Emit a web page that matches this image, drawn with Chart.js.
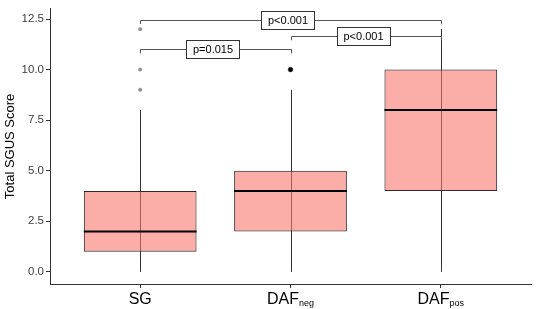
<!DOCTYPE html>
<html lang="en">
<head>
    <meta charset="UTF-8">
    <title>Total SGUS Score</title>
    <script src="https://cdn.jsdelivr.net/npm/chart.js"></script>
    <style>
        body { margin: 0; background: white; }
        #wrap { width: 536px; height: 309px; }
    </style>
</head>
<body>
<div id="wrap"><canvas id="boxChart"></canvas></div>

<script>
    // group names, drawn as main text + subscript
    const groups = ['SG', 'DAFneg', 'DAFpos'];
    const labelMain = ['SG', 'DAF', 'DAF'];
    const labelSub = ['', 'neg', 'pos'];

    // box plot summary
    const whiskerLow = [0, 0, 0];
    const q1 = [1, 2, 4];
    const medians = [2, 4, 8];
    const q3 = [4, 5, 10];
    const whiskerHigh = [8, 9, 12];

    // outliers (group index, value)
    const outlierGroup = [0, 0, 0, 1];
    const outlierValue = [9, 10, 12, 10];
    const outlierColor = ['#8c8c8c', '#8c8c8c', '#8c8c8c', '#000000'];

    // significance brackets
    const compareFrom = [0, 0, 1];
    const compareTo = [1, 2, 2];
    const compareY = [11.0, 12.45, 11.65];
    const pLabels = ['p=0.015', 'p<0.001', 'p<0.001'];

    const yTicks = [0, 2.5, 5, 7.5, 10, 12.5];
    const FONT = '"Liberation Sans", Arial, sans-serif';

    const boxExtras = {
        id: 'boxExtras',
        beforeDatasetsDraw(chart) {
            const { ctx, scales: { x, y } } = chart;
            ctx.save();
            ctx.strokeStyle = '#333333';
            ctx.lineWidth = 1;
            groups.forEach((g, i) => {
                const px = Math.round(x.getPixelForValue(i)) + 0.5;
                ctx.beginPath();
                ctx.moveTo(px, y.getPixelForValue(whiskerLow[i]));
                ctx.lineTo(px, y.getPixelForValue(whiskerHigh[i]));
                ctx.stroke();
            });
            ctx.restore();
        },
        afterDatasetsDraw(chart) {
            const { ctx, scales: { x, y } } = chart;
            const meta = chart.getDatasetMeta(0);
            ctx.save();
            // medians
            ctx.strokeStyle = '#000000';
            ctx.lineWidth = 2;
            meta.data.forEach((bar, i) => {
                const half = bar.width / 2;
                const py = y.getPixelForValue(medians[i]);
                ctx.beginPath();
                ctx.moveTo(bar.x - half, py);
                ctx.lineTo(bar.x + half, py);
                ctx.stroke();
            });

            // brackets
            const tip = 0.2;
            ctx.lineWidth = 1;
            ctx.font = '11px ' + FONT;
            ctx.textAlign = 'center';
            ctx.textBaseline = 'middle';
            compareY.forEach((v, k) => {
                const x1 = Math.round(x.getPixelForValue(compareFrom[k])) + 0.5;
                const x2 = Math.round(x.getPixelForValue(compareTo[k])) + 0.5;
                const py = Math.round(y.getPixelForValue(v)) + 0.5;
                const pt = y.getPixelForValue(v - tip);
                ctx.strokeStyle = '#555555';
                ctx.beginPath();
                ctx.moveTo(x1, pt);
                ctx.lineTo(x1, py);
                ctx.lineTo(x2, py);
                ctx.lineTo(x2, pt);
                ctx.stroke();

                const cx = (x1 + x2) / 2 - 3;
                const w = ctx.measureText(pLabels[k]).width + 13;
                const h = 18;
                const bx = Math.round(cx - w / 2) + 0.5;
                const by = Math.round(py - h / 2 - 1);
                ctx.fillStyle = '#ffffff';
                ctx.fillRect(bx, by, w, h);
                ctx.strokeStyle = '#333333';
                ctx.strokeRect(bx, by + 0.5, Math.round(w), h);
                ctx.fillStyle = '#000000';
                ctx.fillText(pLabels[k], cx, by + h / 2 + 1);
            });

            // x labels with subscripts
            ctx.textBaseline = 'alphabetic';
            ctx.textAlign = 'left';
            groups.forEach((g, i) => {
                const px = x.getPixelForValue(i);
                ctx.font = '16px ' + FONT;
                const wMain = ctx.measureText(labelMain[i]).width;
                ctx.font = '9px ' + FONT;
                const wSub = ctx.measureText(labelSub[i]).width;
                const start = px - (wMain + wSub) / 2;
                ctx.fillStyle = '#000000';
                ctx.font = '16px ' + FONT;
                ctx.fillText(labelMain[i], start, 303.5);
                ctx.font = '9px ' + FONT;
                ctx.fillText(labelSub[i], start + wMain, 305.5);
            });
            ctx.restore();
        }
    };

    const ctx = document.getElementById('boxChart').getContext('2d');
    const boxChart = new Chart(ctx, {
        type: 'bar',
        data: {
            datasets: [{
                type: 'bar',
                data: groups.map((g, i) => ({ x: i, y: [q1[i], q3[i]] })),
                backgroundColor: 'rgba(248,118,109,0.6)',
                borderColor: '#2b2b2b',
                borderWidth: 1,
                borderSkipped: false,
                categoryPercentage: 0.75,
                barPercentage: 1
            }, {
                type: 'scatter',
                data: outlierValue.map((v, k) => ({ x: outlierGroup[k], y: v })),
                backgroundColor: outlierColor,
                borderColor: outlierColor,
                pointRadius: outlierColor.map(c => c === '#000000' ? 2.3 : 1.7),
                borderWidth: 0.5
            }]
        },
        options: {
            responsive: true,
            maintainAspectRatio: false,
            animation: false,
            events: [],
            layout: { padding: { top: 1, right: 5, left: 0, bottom: 0 } },
            plugins: { legend: { display: false }, tooltip: { enabled: false } },
            scales: {
                x: {
                    type: 'linear',
                    offset: false,
                    min: -0.6,
                    max: 2.6,
                    afterBuildTicks: s => { s.ticks = groups.map((g, i) => ({ value: i })); },
                    afterFit: s => { s.height = 25; },
                    ticks: { display: false },
                    grid: { display: true, offset: false, drawOnChartArea: false, drawTicks: true, tickLength: 4, color: '#333333' },
                    border: { display: true, color: '#333333', width: 1 }
                },
                y: {
                    min: -0.6,
                    max: 13.0,
                    afterBuildTicks: s => { s.ticks = yTicks.map(v => ({ value: v })); },
                    afterFit: s => { s.width = 50; },
                    ticks: {
                        callback: v => v.toFixed(1),
                        color: '#3d3d3d',
                        font: { family: FONT, size: 11.5 },
                        padding: 2
                    },
                    grid: { display: true, drawOnChartArea: false, drawTicks: true, tickLength: 4, color: '#333333' },
                    border: { display: true, color: '#333333', width: 1 },
                    title: {
                        display: true,
                        text: 'Total SGUS Score',
                        color: '#000000',
                        font: { family: FONT, size: 13 },
                        padding: { top: 3, bottom: 0 }
                    }
                }
            }
        },
        plugins: [boxExtras]
    });
</script>
</body>
</html>
